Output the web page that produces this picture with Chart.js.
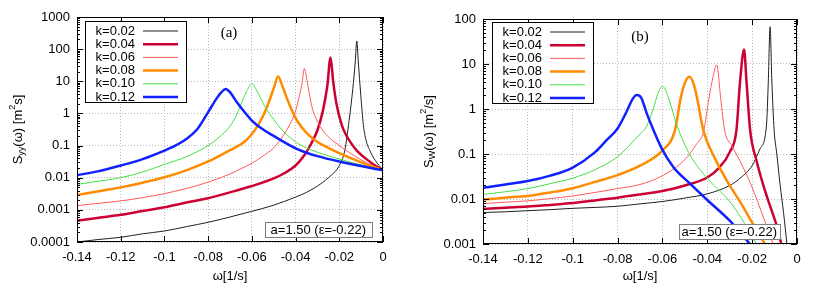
<!DOCTYPE html>
<html>
<head>
<meta charset="utf-8">
<script src="https://cdn.jsdelivr.net/npm/chart.js@4/dist/chart.umd.min.js"></script>
<style>
body { margin: 0; background: #fff; width: 822px; height: 288px; overflow: hidden; position: relative; }
.panel { position: absolute; top: 0; width: 411px; height: 288px; }
</style>
</head>
<body>
<div class="panel" style="left:0"><canvas id="chartA"></canvas></div>
<div class="panel" style="left:411px"><canvas id="chartB"></canvas></div>
<script>

const seriesLabels = ["k=0.02", "k=0.04", "k=0.06", "k=0.08", "k=0.10", "k=0.12"]
const seriesColors = ["#202020", "#cc0033", "#ff5a5a", "#ff8c00", "#44e044", "#1020ff"]
const seriesWidths = [1, 2.5, 1, 2.5, 1, 2.5]

const xTicks = [-0.14, -0.12, -0.1, -0.08, -0.06, -0.04, -0.02, 0]
const xTickLabels = ["-0.14", "-0.12", "-0.1", "-0.08", "-0.06", "-0.04", "-0.02", "0"]
const yTicksA = [0.0001, 0.001, 0.01, 0.1, 1, 10, 100, 1000]
const yTickLabelsA = ["0.0001", "0.001", "0.01", "0.1", "1", "10", "100", "1000"]
const yTicksB = [0.001, 0.01, 0.1, 1, 10, 100]
const yTickLabelsB = ["0.001", "0.01", "0.1", "1", "10", "100"]

// panel (a): S_yy(omega)
const wA1 = [-0.14, -0.13, -0.12, -0.11, -0.10, -0.09, -0.08, -0.07, -0.06, -0.05, -0.04, -0.035, -0.03, -0.025, -0.02, -0.0175, -0.0155, -0.0138, -0.0127, -0.012, -0.0113, -0.0102, -0.009, -0.0078, -0.006, -0.0036, 0]
const sA1 = [0.0001, 0.00012, 0.00014, 0.00018, 0.00022, 0.0003, 0.00041, 0.0006, 0.0009, 0.0014, 0.0025, 0.0035, 0.0055, 0.01, 0.024, 0.07, 0.6, 6, 40, 180, 40, 4, 0.45, 0.15, 0.07, 0.035, 0.017]
const wA2 = [-0.14, -0.13, -0.12, -0.11, -0.10, -0.09, -0.08, -0.07, -0.06, -0.05, -0.045, -0.04, -0.036, -0.033, -0.03, -0.0275, -0.0255, -0.024, -0.0228, -0.0213, -0.0189, -0.017, -0.015, -0.012, -0.008, -0.004, 0]
const sA2 = [0.00046, 0.00057, 0.0007, 0.00092, 0.0012, 0.0017, 0.0023, 0.0035, 0.0055, 0.0095, 0.014, 0.024, 0.05, 0.11, 0.3, 1.2, 7, 55, 10, 2, 0.44, 0.22, 0.13, 0.07, 0.04, 0.025, 0.017]
const wA3 = [-0.14, -0.13, -0.12, -0.11, -0.10, -0.09, -0.08, -0.07, -0.065, -0.06, -0.055, -0.05, -0.047, -0.0445, -0.042, -0.04, -0.0385, -0.037, -0.036, -0.0346, -0.0325, -0.0296, -0.026, -0.02, -0.015, -0.01, -0.005, 0]
const sA3 = [0.00135, 0.0016, 0.0019, 0.0024, 0.0032, 0.0046, 0.0073, 0.013, 0.019, 0.028, 0.047, 0.085, 0.15, 0.27, 0.55, 1.2, 3, 9, 25, 9, 1.6, 0.5, 0.22, 0.1, 0.058, 0.036, 0.024, 0.017]
const wA4 = [-0.14, -0.13, -0.12, -0.11, -0.10, -0.09, -0.08, -0.07, -0.065, -0.0624, -0.058, -0.055, -0.0525, -0.05, -0.048, -0.046, -0.044, -0.042, -0.039, -0.035, -0.03, -0.025, -0.02, -0.01, 0]
const sA4 = [0.0029, 0.0038, 0.005, 0.007, 0.0103, 0.017, 0.032, 0.072, 0.11, 0.15, 0.35, 0.8, 2, 6, 14, 7, 3, 1.4, 0.55, 0.25, 0.13, 0.085, 0.058, 0.03, 0.017]
const wA5 = [-0.14, -0.13, -0.12, -0.11, -0.10, -0.09, -0.08, -0.075, -0.07, -0.067, -0.064, -0.062, -0.06, -0.058, -0.056, -0.054, -0.05, -0.047, -0.04, -0.035, -0.03, -0.02, -0.01, 0]
const sA5 = [0.0062, 0.0078, 0.01, 0.015, 0.026, 0.045, 0.1, 0.18, 0.4, 0.9, 2.8, 5.5, 8.5, 5.5, 3, 1.6, 0.65, 0.35, 0.13, 0.085, 0.062, 0.038, 0.025, 0.017]
const wA6 = [-0.14, -0.13, -0.12, -0.11, -0.10, -0.095, -0.09, -0.085, -0.08, -0.076, -0.074, -0.072, -0.07, -0.067, -0.064, -0.06, -0.055, -0.05, -0.045, -0.04, -0.035, -0.03, -0.02, -0.01, 0]
const sA6 = [0.012, 0.016, 0.024, 0.038, 0.07, 0.1, 0.16, 0.32, 1.1, 3, 4.5, 5.8, 4.6, 2.3, 1.25, 0.6, 0.32, 0.2, 0.125, 0.082, 0.06, 0.047, 0.032, 0.023, 0.017]

// panel (b): S_W(omega)
const wB1 = [-0.14, -0.13, -0.12, -0.11, -0.10, -0.09, -0.08, -0.07, -0.06, -0.05, -0.04, -0.03, -0.025, -0.02, -0.0165, -0.0136, -0.0128, -0.012, -0.0112, -0.0102, -0.009, -0.0075, -0.006, -0.0045]
const sB1 = [0.005, 0.0052, 0.0055, 0.0058, 0.0062, 0.0065, 0.0069, 0.0078, 0.0088, 0.0105, 0.013, 0.02, 0.03, 0.055, 0.13, 0.44, 4, 67, 4, 0.34, 0.1, 0.02, 0.005, 0.001]
const wB2 = [-0.14, -0.13, -0.12, -0.11, -0.10, -0.09, -0.08, -0.07, -0.06, -0.05, -0.04, -0.035, -0.03, -0.027, -0.0254, -0.0236, -0.0225, -0.0209, -0.018, -0.015, -0.012, -0.009, -0.007]
const sB2 = [0.006, 0.0064, 0.0068, 0.0074, 0.0081, 0.0093, 0.0107, 0.0126, 0.015, 0.02, 0.03, 0.048, 0.11, 0.34, 4, 21, 4, 0.34, 0.07, 0.02, 0.007, 0.0025, 0.001]
const wB3 = [-0.14, -0.13, -0.12, -0.11, -0.10, -0.09, -0.08, -0.07, -0.06, -0.05, -0.045, -0.0415, -0.0393, -0.0375, -0.0358, -0.034, -0.0323, -0.029, -0.0254, -0.02, -0.0165, -0.0106]
const sB3 = [0.0079, 0.0085, 0.0091, 0.0102, 0.0117, 0.014, 0.017, 0.021, 0.033, 0.075, 0.16, 0.34, 1.7, 5, 9.5, 1.7, 0.34, 0.15, 0.07, 0.018, 0.0063, 0.001]
const wB4 = [-0.14, -0.13, -0.12, -0.11, -0.10, -0.09, -0.08, -0.07, -0.06, -0.0544, -0.0519, -0.05, -0.048, -0.046, -0.0445, -0.0418, -0.0366, -0.03, -0.0254, -0.02, -0.0143]
const sB4 = [0.0097, 0.0107, 0.0117, 0.014, 0.0174, 0.024, 0.034, 0.055, 0.12, 0.34, 1.7, 3.8, 5.2, 3.5, 1.7, 0.34, 0.08, 0.02, 0.0087, 0.003, 0.001]
const wB5 = [-0.14, -0.13, -0.12, -0.11, -0.10, -0.09, -0.08, -0.0709, -0.067, -0.064, -0.062, -0.06, -0.0578, -0.0559, -0.0533, -0.0477, -0.04, -0.0288, -0.018]
const sB5 = [0.0126, 0.0145, 0.017, 0.022, 0.029, 0.045, 0.087, 0.25, 0.42, 1.04, 2.2, 3.2, 2.1, 1.04, 0.4, 0.095, 0.029, 0.0074, 0.001]
const wB6 = [-0.14, -0.13, -0.12, -0.11, -0.10, -0.09, -0.085, -0.08, -0.076, -0.0735, -0.0715, -0.0695, -0.067, -0.064, -0.0604, -0.055, -0.0477, -0.04, -0.03, -0.021]
const sB6 = [0.0178, 0.021, 0.025, 0.033, 0.05, 0.11, 0.2, 0.37, 0.87, 1.6, 2.05, 1.8, 0.8, 0.34, 0.135, 0.05, 0.022, 0.0095, 0.0033, 0.001]

const SANS = '"Liberation Sans", Arial, sans-serif'
const SERIF = '"Liberation Serif", "Times New Roman", serif'

Chart.defaults.font.family = SANS
Chart.defaults.font.size = 13
Chart.defaults.color = "#000"

// draws a string made of parts [text, size, shift], centred on (x, y)
function richText(ctx, parts, x, y, rotate) {
    ctx.save()
    ctx.translate(x, y)
    if (rotate) ctx.rotate(-Math.PI / 2)
    let total = 0
    parts.forEach(p => {
        ctx.font = p[1] + "px " + SANS
        total += ctx.measureText(p[0]).width
    })
    let cx = -total / 2
    ctx.textAlign = "left"
    ctx.textBaseline = "middle"
    ctx.fillStyle = "#000"
    parts.forEach(p => {
        ctx.font = p[1] + "px " + SANS
        ctx.fillText(p[0], cx, p[2])
        cx += ctx.measureText(p[0]).width
    })
    ctx.restore()
}

const decor = {
    id: "decor",
    afterDatasetsDraw(chart, args, o) {
        const ctx = chart.ctx
        const a = chart.chartArea
        const xs = chart.scales.x
        const ys = chart.scales.y
        ctx.save()

        // frame
        ctx.strokeStyle = "#000"
        ctx.lineWidth = 1
        ctx.strokeRect(a.left + 0.5, a.top + 0.5, a.right - a.left - 1, a.bottom - a.top - 1)

        // inward ticks
        ctx.beginPath()
        xTicks.forEach(v => {
            const px = Math.round(xs.getPixelForValue(v)) + 0.5
            ctx.moveTo(px, a.bottom); ctx.lineTo(px, a.bottom - 6)
            ctx.moveTo(px, a.top); ctx.lineTo(px, a.top + 6)
        })
        o.yTicks.forEach((v, i) => {
            const py = Math.round(ys.getPixelForValue(v)) + 0.5
            ctx.moveTo(a.left, py); ctx.lineTo(a.left + 6, py)
            ctx.moveTo(a.right, py); ctx.lineTo(a.right - 6, py)
            if (i < o.yTicks.length - 1) {
                for (let m = 2; m < 10; m++) {
                    const pm = Math.round(ys.getPixelForValue(v * m)) + 0.5
                    ctx.moveTo(a.left, pm); ctx.lineTo(a.left + 3, pm)
                    ctx.moveTo(a.right, pm); ctx.lineTo(a.right - 3, pm)
                }
            }
        })
        ctx.stroke()

        // legend box
        const lx = a.left + o.legend[0]
        const ly = a.top + o.legend[1]
        ctx.fillStyle = "#fff"
        ctx.fillRect(lx, ly, 101, 81)
        ctx.strokeStyle = "#000"
        ctx.strokeRect(lx + 0.5, ly + 0.5, 101, 81)
        ctx.font = "13px " + SANS
        ctx.textAlign = "right"
        ctx.textBaseline = "middle"
        chart.data.datasets.forEach((ds, i) => {
            const ry = ly + 10 + i * 13.2
            ctx.fillStyle = "#000"
            ctx.fillText(ds.label, lx + 50, ry)
            ctx.strokeStyle = ds.borderColor
            ctx.lineWidth = ds.borderWidth
            ctx.beginPath()
            ctx.moveTo(lx + 58, ry); ctx.lineTo(lx + 93, ry)
            ctx.stroke()
        })

        // panel tag
        ctx.fillStyle = "#000"
        ctx.font = "15px " + SERIF
        ctx.textAlign = "center"
        ctx.fillText(o.tag, a.left + o.tagPos[0], a.top + o.tagPos[1])

        // parameter box
        const note = "a=1.50 (\u03b5=-0.22)"
        ctx.font = "13px " + SANS
        const tw = ctx.measureText(note).width
        const bw = tw + o.notePad * 2
        const bx = a.right - o.noteInset - bw
        const by = a.bottom - 5 - 15
        ctx.fillStyle = "#fff"
        ctx.fillRect(bx, by, bw, 15)
        ctx.strokeStyle = "#808080"
        ctx.lineWidth = 1
        ctx.strokeRect(Math.round(bx) + 0.5, by + 0.5, Math.round(bw), 15)
        ctx.fillStyle = "#000"
        ctx.textAlign = "left"
        ctx.fillText(note, bx + o.notePad, by + 8)

        // axis titles
        richText(ctx, o.yTitle, 18, (a.top + a.bottom) / 2, true)
        richText(ctx, [["\u03c9[1/s]", 13, 0]], (a.left + a.right) / 2, chart.height - 12, false)

        ctx.restore()
    }
}

function makeChart(p) {
    const datasets = seriesLabels.map((label, i) => ({
        label: label,
        data: p.ws[i].map((w, j) => ({ x: w, y: p.ss[i][j] })),
        borderColor: seriesColors[i],
        borderWidth: seriesWidths[i],
        pointRadius: 0,
        fill: false,
        cubicInterpolationMode: "monotone",
        order: 5 - i
    }))

    new Chart(document.getElementById(p.id), {
        type: "line",
        data: { datasets: datasets },
        plugins: [decor],
        options: {
            responsive: true,
            maintainAspectRatio: false,
            animation: false,
            layout: { padding: { top: p.padTop, right: p.padRight, left: 0, bottom: 0 } },
            plugins: {
                legend: { display: false },
                tooltip: { enabled: false },
                decor: p.decor
            },
            scales: {
                x: {
                    type: "linear",
                    min: -0.14,
                    max: 0,
                    afterBuildTicks: axis => { axis.ticks = xTicks.map(v => ({ value: v })) },
                    afterFit: axis => { axis.height = p.xHeight },
                    ticks: {
                        autoSkip: false,
                        maxRotation: 0,
                        padding: 8,
                        callback: v => xTickLabels[xTicks.indexOf(v)]
                    },
                    grid: { color: "#b8b8b8", drawTicks: false },
                    border: { display: false, dash: [1, 2] }
                },
                y: {
                    type: "logarithmic",
                    min: p.yTicks[0],
                    max: p.yTicks[p.yTicks.length - 1],
                    afterBuildTicks: axis => { axis.ticks = p.yTicks.map(v => ({ value: v })) },
                    afterFit: axis => { axis.width = p.yWidth },
                    ticks: {
                        autoSkip: false,
                        padding: 7,
                        callback: v => p.yLabels[p.yTicks.indexOf(v)]
                    },
                    grid: { color: "#b8b8b8", drawTicks: false },
                    border: { display: false, dash: [1, 2] }
                }
            }
        }
    })
}

makeChart({
    id: "chartA",
    ws: [wA1, wA2, wA3, wA4, wA5, wA6],
    ss: [sA1, sA2, sA3, sA4, sA5, sA6],
    yTicks: yTicksA,
    yLabels: yTickLabelsA,
    padTop: 17, padRight: 28, yWidth: 77, xHeight: 46,
    decor: {
        yTicks: yTicksA,
        legend: [8, 4],
        tag: "(a)", tagPos: [152, 16],
        notePad: 6, noteInset: 11,
        yTitle: [["S", 13, 0], ["yy", 9, 4], ["(\u03c9) [m", 13, 0], ["2", 9, -5], ["s]", 13, 0]]
    }
})

makeChart({
    id: "chartB",
    ws: [wB1, wB2, wB3, wB4, wB5, wB6],
    ss: [sB1, sB2, sB3, sB4, sB5, sB6],
    yTicks: yTicksB,
    yLabels: yTickLabelsB,
    padTop: 19, padRight: 25, yWidth: 72, xHeight: 44,
    decor: {
        yTicks: yTicksB,
        legend: [9, 3],
        tag: "(b)", tagPos: [157, 18],
        notePad: 3, noteInset: 17,
        yTitle: [["S", 13, 0], ["W", 9, 4], ["(\u03c9) [m", 13, 0], ["2", 9, -5], ["/s]", 13, 0]]
    }
})

</script>
</body>
</html>
